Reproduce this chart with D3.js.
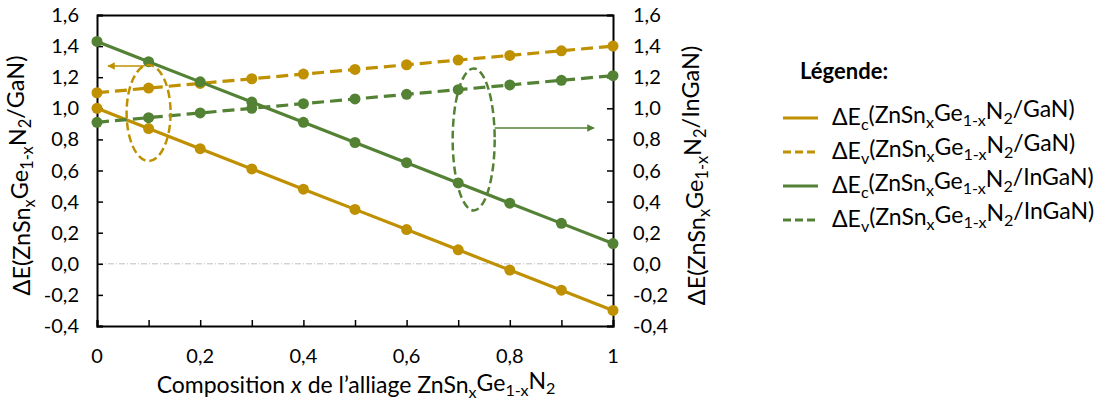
<!DOCTYPE html>
<html><head><meta charset="utf-8">
<script src="https://cdn.jsdelivr.net/npm/d3@7"></script>
<style>body{margin:0;background:#fff}svg{display:block;font-family:Lato,"Open Sans",sans-serif}</style>
</head><body><svg id="c" width="1111" height="408"></svg>
<script>
const xValues = [0,0.1,0.2,0.3,0.4,0.5,0.6,0.7,0.8,0.9,1];
const ecGaN   = [1.00,0.87,0.74,0.61,0.48,0.35,0.22,0.09,-0.04,-0.17,-0.30];
const evGaN   = [1.10,1.13,1.16,1.19,1.22,1.25,1.28,1.31,1.34,1.37,1.40];
const ecInGaN = [1.43,1.30,1.17,1.04,0.91,0.78,0.65,0.52,0.39,0.26,0.13];
const evInGaN = [0.91,0.94,0.97,1.00,1.03,1.06,1.09,1.12,1.15,1.18,1.21];
const xTicks = [0,0.2,0.4,0.6,0.8,1];
const yTicks = [-0.4,-0.2,0,0.2,0.4,0.6,0.8,1.0,1.2,1.4,1.6];

const GOLD = "#BF9000", GREEN = "#548235";
const series = [
  {name:"GaN", sub:"c", vals:ecGaN, color:GOLD, dash:null},
  {name:"GaN", sub:"v", vals:evGaN, color:GOLD, dash:"12,6"},
  {name:"InGaN", sub:"c", vals:ecInGaN, color:GREEN, dash:null},
  {name:"InGaN", sub:"v", vals:evInGaN, color:GREEN, dash:"12,6"}
];

const svg = d3.select("#c");
const L = 97, R = 613, T = 15, B = 326;
const x = d3.scaleLinear().domain([0,1]).range([L,R]);
const y = d3.scaleLinear().domain([-0.4,1.6]).range([B,T]);
const fmt = d => d3.format(".1f")(d).replace(".", ",").replace("−", "-");
const fmtX = d => (d===0||d===1) ? String(d) : String(d).replace(".", ",");

// zero line
svg.append("line").attr("x1",L).attr("x2",R).attr("y1",y(0)).attr("y2",y(0))
  .attr("stroke","#BFBFBF").attr("stroke-width",1).attr("stroke-dasharray","6,2,1,2");

// axes
const axL = svg.append("g").attr("transform",`translate(${L},0)`)
  .call(d3.axisRight(y).tickValues(yTicks).tickSize(6).tickFormat(""));
const axR = svg.append("g").attr("transform",`translate(${R},0)`)
  .call(d3.axisLeft(y).tickValues(yTicks).tickSize(6).tickFormat(""));
const axB = svg.append("g").attr("transform",`translate(0,${B})`)
  .call(d3.axisTop(x).tickValues(xValues).tickSize(6).tickFormat(""));
const axT = svg.append("g").attr("transform",`translate(0,${T})`)
  .call(d3.axisBottom(x).tickValues([]).tickSize(0));
[axL,axR,axB,axT].forEach(g=>{g.select(".domain").attr("stroke","#000").attr("stroke-width",2);
  g.selectAll(".tick line").attr("stroke","#000").attr("stroke-width",1.5);});

// tick labels
svg.append("g").selectAll("text").data(yTicks).join("text")
  .attr("x",L-18).attr("y",d=>y(d)).attr("dy","0.35em").attr("text-anchor","end")
  .attr("font-size",20).attr("fill","#000").text(fmt);
svg.append("g").selectAll("text").data(yTicks).join("text")
  .attr("x",R+20).attr("y",d=>y(d)).attr("dy","0.35em").attr("text-anchor","start")
  .attr("font-size",20).attr("fill","#000").text(fmt);
svg.append("g").selectAll("text").data(xTicks).join("text")
  .attr("x",d=>x(d)).attr("y",356).attr("dy","0.35em").attr("text-anchor","middle")
  .attr("font-size",20).attr("fill","#000").text(fmtX);

// helper for formula text
function formula(t, sub, host){
  t.append("tspan").text("ΔE");
  if(sub){ t.append("tspan").attr("font-size","0.7em").attr("dy","0.3em").text(sub);
           t.append("tspan").attr("dy","-0.3em").text("(ZnSn"); }
  else t.append("tspan").text("(ZnSn");
  t.append("tspan").attr("font-size","0.7em").attr("dy","0.3em").text("x");
  t.append("tspan").attr("dy","-0.3em").text("Ge");
  t.append("tspan").attr("font-size","0.7em").attr("dy","0.3em").text("1-x");
  t.append("tspan").attr("dy","-0.3em").text("N");
  t.append("tspan").attr("font-size","0.7em").attr("dy","0.3em").text("2");
  t.append("tspan").attr("dy","-0.3em").text("/"+host+")");
}

// y axis titles
const yl = svg.append("text").attr("transform",`translate(30,${(T+B)/2+5}) rotate(-90)`)
  .attr("text-anchor","middle").attr("font-size",23.5).attr("fill","#000");
formula(yl,null,"GaN");
const yr = svg.append("text").attr("transform",`translate(705,${(T+B)/2+5}) rotate(-90)`)
  .attr("text-anchor","middle").attr("font-size",23.5).attr("fill","#000");
formula(yr,null,"InGaN");

// x axis title
const xt = svg.append("text").attr("x",356).attr("y",393).attr("text-anchor","middle")
  .attr("font-size",23).attr("fill","#000");
xt.append("tspan").text("Composition ");
xt.append("tspan").attr("font-style","italic").text("x");
xt.append("tspan").text(" de l’alliage ZnSn");
xt.append("tspan").attr("font-size","0.7em").attr("dy","0.3em").text("x");
xt.append("tspan").attr("dy","-0.3em").text("Ge");
xt.append("tspan").attr("font-size","0.7em").attr("dy","0.3em").text("1-x");
xt.append("tspan").attr("dy","-0.3em").text("N");
xt.append("tspan").attr("font-size","0.7em").attr("dy","0.3em").text("2");

// series
const line = d3.line().x((d,i)=>x(xValues[i])).y(d=>y(d));
series.forEach(s=>{
  svg.append("path").attr("d",line(s.vals)).attr("fill","none").attr("stroke",s.color)
    .attr("stroke-width",3.2).attr("stroke-dasharray",s.dash);
  svg.append("g").selectAll("circle").data(s.vals).join("circle")
    .attr("cx",(d,i)=>x(xValues[i])).attr("cy",d=>y(d)).attr("r",5.5).attr("fill",s.color);
});

// annotation ellipses and arrows
const defs = svg.append("defs");
[["aG",GOLD],["aN",GREEN]].forEach(([id,c])=>{
  defs.append("marker").attr("id",id).attr("viewBox","0 0 10 10").attr("refX",9).attr("refY",5)
    .attr("markerWidth",5).attr("markerHeight",5).attr("orient","auto-start-reverse")
    .append("path").attr("d","M0,0L10,5L0,10z").attr("fill",c);
});
svg.append("ellipse").attr("cx",x(0.1)).attr("cy",y(0.97)).attr("rx",22).attr("ry",48)
  .attr("fill","none").attr("stroke",GOLD).attr("stroke-width",2.5).attr("stroke-dasharray","8,4");
svg.append("line").attr("x1",x(0.1)-4).attr("y1",66).attr("x2",108).attr("y2",66)
  .attr("stroke",GOLD).attr("stroke-width",1.5).attr("marker-end","url(#aG)");
svg.append("ellipse").attr("cx",x(0.73)).attr("cy",y(0.8)).attr("rx",21).attr("ry",71)
  .attr("fill","none").attr("stroke",GREEN).attr("stroke-width",2.5).attr("stroke-dasharray","8,4");
svg.append("line").attr("x1",x(0.73)+21).attr("y1",128).attr("x2",594).attr("y2",128)
  .attr("stroke",GREEN).attr("stroke-width",1.5).attr("marker-end","url(#aN)");

// legend
svg.append("text").attr("x",800).attr("y",79).attr("font-size",22).attr("font-weight","bold")
  .attr("fill","#000").text("Légende:");
const legY = [118,152,186,220];
series.forEach((s,i)=>{
  svg.append("line").attr("x1",783).attr("x2",818).attr("y1",legY[i]).attr("y2",legY[i])
    .attr("stroke",s.color).attr("stroke-width",3).attr("stroke-dasharray",s.dash?"8,4":null);
  const t = svg.append("text").attr("x",832).attr("y",legY[i]+7).attr("font-size",23).attr("fill","#000");
  formula(t,s.sub,s.name);
});
</script></body></html>
